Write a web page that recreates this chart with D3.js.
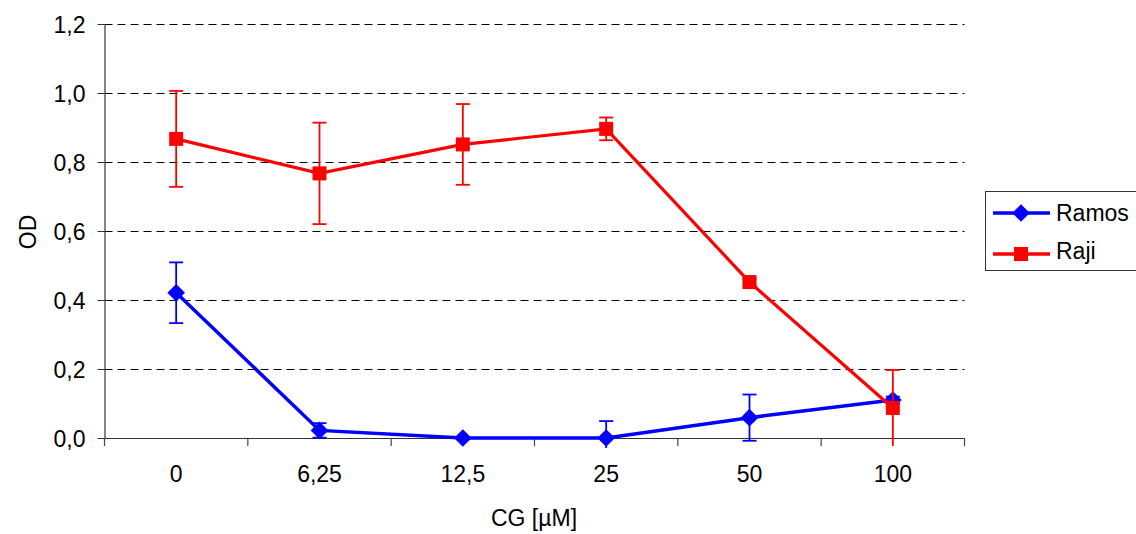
<!DOCTYPE html>
<html><head><meta charset="utf-8">
<script src="https://cdn.jsdelivr.net/npm/d3@7"></script>
<style>body{margin:0;background:#fff}svg{display:block}text{font-family:"Liberation Sans",Arial,sans-serif;fill:#000}</style>
</head><body><svg id="c" width="1136" height="534"></svg>
<script>
const categories = ["0","6,25","12,5","25","50","100"];
const ramos = [0.421, 0.022, 0.0, 0.0, 0.059, 0.11];
const ramosErr = [0.088, 0.021, 0.0, 0.049, 0.067, 0.01];
const raji = [0.867, 0.767, 0.851, 0.896, 0.452, 0.087];
const rajiErr = [0.139, 0.147, 0.117, 0.033, 0.01, 0.11];
const yTicks = [0, 0.2, 0.4, 0.6, 0.8, 1.0, 1.2];
const seriesNames = ["Ramos","Raji"];

const FS = 23;
const FF = "Liberation Sans, Arial, sans-serif";
const svg = d3.select("#c");
const L = 104.5, R = 964.5, T = 24, B = 438;
const x = d3.scaleBand().domain(categories).range([L, R]);
const y = d3.scaleLinear().domain([0, 1.2]).range([B, T]);
const fmt = v => d3.format(".1f")(v).replace(".", ",");

// gridlines
svg.append("g").selectAll("line").data(yTicks.filter(d => d > 0)).join("line")
  .attr("x1", L).attr("x2", R).attr("y1", d => Math.round(y(d)) + 0.5).attr("y2", d => Math.round(y(d)) + 0.5)
  .attr("stroke", "#000").attr("stroke-width", 1).attr("stroke-dasharray", "8,5");

// y axis
const ya = svg.append("g").attr("transform", `translate(${L},0)`)
  .call(d3.axisLeft(y).tickValues(yTicks).tickFormat(fmt).tickSize(7).tickSizeOuter(0));
ya.select(".domain").attr("stroke", "#333").attr("stroke-width", 1.2);
ya.selectAll(".tick line").attr("stroke", "#333");
ya.selectAll(".tick text").attr("font-size", FS).attr("x", -19).attr("dy", "0.36em").attr("font-family", FF).attr("fill", "#000");

// x axis
const xa = svg.append("g").attr("transform", `translate(0,${B})`)
  .call(d3.axisBottom(x).tickSize(0).tickPadding(27.5));
xa.select(".domain").attr("stroke", "#333").attr("stroke-width", 1.2);
xa.selectAll(".tick text").attr("font-size", FS).attr("font-family", FF).attr("fill", "#000");
// boundary ticks
const bounds = categories.map(c => x(c)).concat([R]);
svg.append("g").selectAll("line").data(bounds).join("line")
  .attr("x1", d => d).attr("x2", d => d).attr("y1", B).attr("y2", B + 8)
  .attr("stroke", "#444").attr("stroke-width", 1.2);

// axis titles
svg.append("text").attr("x", 534).attr("y", 526).attr("text-anchor", "middle").attr("font-size", FS).text("CG [µM]");
svg.append("text").attr("transform", "translate(36,232) rotate(-90)").attr("text-anchor", "middle").attr("font-size", FS).text("OD");

const cx = c => x(c) + x.bandwidth() / 2;

function errBars(vals, errs, color) {
  const g = svg.append("g");
  categories.forEach((c, i) => {
    if (errs[i] <= 0) return;
    const hi = vals[i] + errs[i], lo = vals[i] - errs[i];
    const loY = lo < 0 ? Math.min(y(lo), 448) : y(lo);
    g.append("line").attr("x1", cx(c)).attr("x2", cx(c)).attr("y1", y(hi)).attr("y2", loY)
      .attr("stroke", color).attr("stroke-width", 1.8);
    g.append("line").attr("x1", cx(c) - 7).attr("x2", cx(c) + 7).attr("y1", y(hi)).attr("y2", y(hi))
      .attr("stroke", color).attr("stroke-width", 1.8);
    if (lo >= -0.012) g.append("line").attr("x1", cx(c) - 7).attr("x2", cx(c) + 7).attr("y1", y(lo)).attr("y2", y(lo))
      .attr("stroke", color).attr("stroke-width", 1.8);
  });
}
const line = d3.line().x((d, i) => cx(categories[i])).y(d => y(d));

// Ramos
errBars(ramos, ramosErr, "#0000ff");
svg.append("path").datum(ramos).attr("d", line).attr("fill", "none").attr("stroke", "#0000ff").attr("stroke-width", 3.5);
svg.append("g").selectAll("path").data(ramos).join("path")
  .attr("d", d3.symbol().type(d3.symbolDiamond2).size(200))
  .attr("transform", (d, i) => `translate(${cx(categories[i])},${y(d)})`).attr("fill", "#0000ff");

// Raji
errBars(raji, rajiErr, "#ff0000");
svg.append("path").datum(raji).attr("d", line).attr("fill", "none").attr("stroke", "#ff0000").attr("stroke-width", 3.2);
svg.append("g").selectAll("rect").data(raji).join("rect")
  .attr("x", (d, i) => cx(categories[i]) - 7).attr("y", d => y(d) - 7).attr("width", 14).attr("height", 14).attr("fill", "#ff0000");

// legend
const lg = svg.append("g");
lg.append("rect").attr("x", 985.5).attr("y", 191.5).attr("width", 160).attr("height", 79).attr("fill", "#fff").attr("stroke", "#333").attr("stroke-width", 1);
const colors = ["#0000ff", "#ff0000"];
const lineY = [213, 254], textY = [221, 259];
seriesNames.forEach((n, i) => {
  const yy = lineY[i];
  lg.append("line").attr("x1", 993).attr("x2", 1050).attr("y1", yy).attr("y2", yy).attr("stroke", colors[i]).attr("stroke-width", 3.5);
  if (i === 0) lg.append("path").attr("d", d3.symbol().type(d3.symbolDiamond2).size(200)).attr("transform", `translate(1021,${yy})`).attr("fill", colors[i]);
  else lg.append("rect").attr("x", 1014).attr("y", yy - 7).attr("width", 14).attr("height", 14).attr("fill", colors[i]);
  lg.append("text").attr("x", 1056).attr("y", textY[i]).attr("font-size", FS).text(n);
});
</script></body></html>
